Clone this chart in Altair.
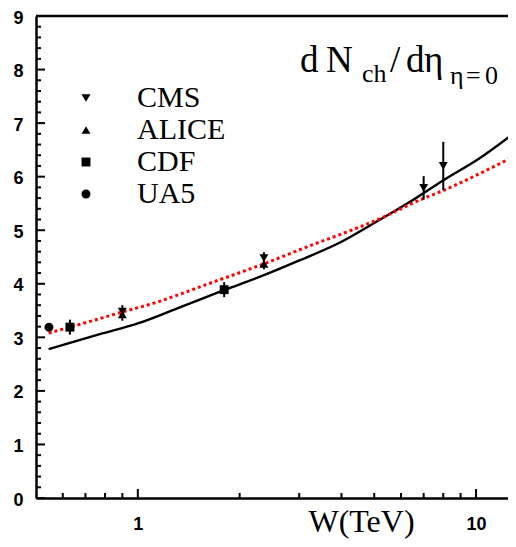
import altair as alt
import pandas as pd

# ---- data ----
solid_w = [0.545, 0.772, 1.0, 1.331, 1.797, 2.359, 3.016, 3.959, 4.958, 6.38, 7.99, 10.27, 12.87]
solid_n = [2.78, 3.06, 3.26, 3.56, 3.88, 4.16, 4.44, 4.77, 5.12, 5.53, 5.93, 6.35, 6.80]

dotted_w = [0.545, 0.629, 0.772, 0.897, 1.130, 1.633, 2.375, 3.228, 4.239, 4.958, 6.970, 7.99, 10.27, 12.87]
dotted_n = [3.08, 3.19, 3.35, 3.47, 3.65, 4.01, 4.38, 4.71, 4.99, 5.16, 5.59, 5.74, 6.06, 6.37]

exp_name = ["CMS", "CMS", "CMS", "CMS", "ALICE", "ALICE", "CDF", "CDF", "UA5"]
exp_w = [0.9, 2.36, 7.0, 8.0, 0.9, 2.36, 0.63, 1.8, 0.546]
exp_n = [3.48, 4.48, 5.79, 6.20, 3.43, 4.37, 3.19, 3.89, 3.19]
exp_err = [0.12, 0.11, 0.22, 0.45, 0.12, 0.10, 0.14, 0.14, 0.0]

legend_names = ["CMS", "ALICE", "CDF", "UA5"]
legend_shapes = ["triangle-down", "triangle-up", "square", "circle"]

y_major = [0, 1, 2, 3, 4, 5, 6, 7, 8, 9]
y_minor = [round(i * 0.2, 1) for i in range(46) if i % 5 != 0]
x_major = [1, 10]
x_minor = [0.6, 0.7, 0.8, 0.9, 2, 3, 4, 5, 6, 7, 8, 9]

# title pieces: text, font size, x (view px), baseline y (view px)
title_text = ["d", "N", "ch", "/", "d", "η", "η", "=", "0"]
title_size = [37, 37, 26, 37, 37, 37, 26, 26, 26]
title_x = [264, 290, 326, 354, 370, 388, 414, 430, 449]
title_y = [56, 56, 66, 56, 56, 56, 68, 68, 68]
x_title = "W(TeV)"

W, H = 472, 482
XMIN, XMAX = 0.5, 12.43

# ---- frames ----
solid = pd.DataFrame({"w": solid_w, "n": solid_n})
dotted = pd.DataFrame({"w": dotted_w, "n": dotted_n})
exp = pd.DataFrame({"exp": exp_name, "w": exp_w, "n": exp_n, "err": exp_err})
exp["lo"] = exp["n"] - exp["err"]
exp["hi"] = exp["n"] + exp["err"]

SERIF = "Liberation Serif"
SANS = "Liberation Sans"

xscale = alt.Scale(type="log", domain=[XMIN, XMAX], nice=False)
yscale = alt.Scale(domain=[0, 9], nice=False, zero=False)

xaxis = alt.Axis(values=x_major, format="d", ticks=False, grid=False,
                 domainWidth=2.5, domainColor="black",
                 labelFont=SANS, labelFontWeight="bold", labelFontSize=18,
                 labelColor="black", labelPadding=17, labelFlush=False,
                 titleFont=SERIF, titleFontWeight="normal", titleFontSize=32,
                 titleColor="black", titleX=325, titleY=33, titleAlign="center",
                 titleBaseline="alphabetic")
yaxis = alt.Axis(values=y_major, format="d", ticks=False, grid=False,
                 domainWidth=2.5, domainColor="black",
                 labelFont=SANS, labelFontWeight="bold", labelFontSize=18,
                 labelColor="black", labelPadding=13, labelOffset=2, labelFlush=False,
                 title=None)

X = alt.X("w:Q", scale=xscale, axis=xaxis, title=x_title)
Y = alt.Y("n:Q", scale=yscale, axis=yaxis)

line_solid = alt.Chart(solid).mark_line(color="black", strokeWidth=2.4, clip=True,
                                        interpolate="monotone").encode(x=X, y=Y)
line_dot = alt.Chart(dotted).mark_line(color="#ff0000", strokeWidth=3, strokeDash=[3, 3],
                                       clip=True, interpolate="monotone").encode(
    x=alt.X("w:Q", scale=xscale), y=alt.Y("n:Q", scale=yscale))

errbars = alt.Chart(exp).mark_rule(color="black", strokeWidth=2).encode(
    x=alt.X("w:Q", scale=xscale), y=alt.Y("lo:Q", scale=yscale), y2="hi:Q")

points = alt.Chart(exp).mark_point(filled=True, size=80, opacity=1, color="black").encode(
    x=alt.X("w:Q", scale=xscale), y=alt.Y("n:Q", scale=yscale),
    shape=alt.Shape("exp:N", scale=alt.Scale(domain=legend_names, range=legend_shapes),
                    legend=alt.Legend(orient="none", legendX=35, legendY=67, title=None,
                                      labelFont=SERIF, labelFontSize=30,
                                      labelColor="black", labelOffset=36, symbolSize=80,
                                      symbolFillColor="black", symbolStrokeColor="black",
                                      rowPadding=2, padding=0)))

def ticks_y(vals, length):
    return alt.Chart(pd.DataFrame({"v": vals})).mark_rule(color="black", strokeWidth=2).encode(
        y=alt.Y("v:Q", scale=yscale), x=alt.value(0), x2=alt.value(length))

def ticks_x(vals, length):
    return alt.Chart(pd.DataFrame({"v": vals})).mark_rule(color="black", strokeWidth=2).encode(
        x=alt.X("v:Q", scale=xscale), y=alt.value(H), y2=alt.value(H - length))

top_border = alt.Chart(pd.DataFrame({"v": [9]})).mark_rule(color="black", strokeWidth=2.5).encode(
    y=alt.Y("v:Q", scale=yscale), x=alt.value(0), x2=alt.value(W))

title_layers = []
for t, s, tx, ty in zip(title_text, title_size, title_x, title_y):
    title_layers.append(
        alt.Chart(pd.DataFrame({"t": [t]})).mark_text(
            align="left", baseline="alphabetic", font=SERIF, fontSize=s,
            color="black").encode(text="t:N", x=alt.value(tx), y=alt.value(ty)))

chart = alt.layer(
    line_solid, line_dot, errbars, points,
    ticks_y(y_major, 9), ticks_y(y_minor, 5), ticks_x(x_major, 9), ticks_x(x_minor, 5),
    top_border, *title_layers
).properties(
    width=W, height=H,
    autosize=alt.AutoSizeParams(type="none"),
    padding={"left": 28, "top": 8, "right": 0, "bottom": 41},
).configure_view(stroke="transparent").configure(background="white")

chart.save("out.html", embed_options={"renderer": "svg", "actions": False})
